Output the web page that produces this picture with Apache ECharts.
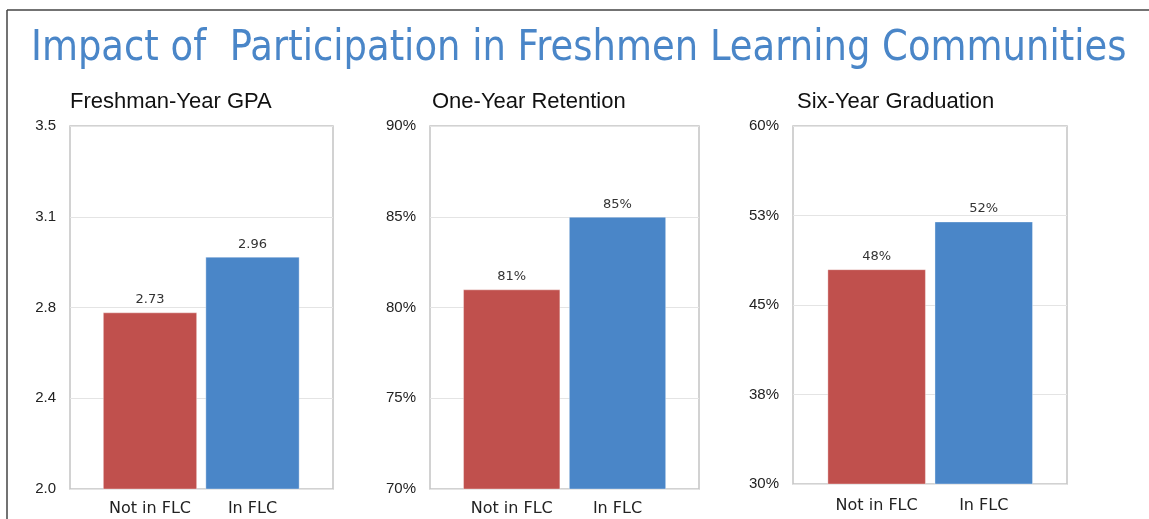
<!DOCTYPE html>
<html lang="en">
<head>
    <meta charset="UTF-8">
    <title>Impact of Participation in Freshmen Learning Communities</title>
    <script src="https://cdn.jsdelivr.net/npm/echarts@6/dist/echarts.min.js"></script>
</head>
<body style="margin:0;background:#fff;">
<div id="main" style="width:1149px;height:519px;"></div>
<script type="text/javascript">
    // data
    var mainTitle = 'Impact of  Participation in Freshmen Learning Communities';
    var categories = ['Not in FLC', 'In FLC'];
    var barColors = ['#C0504D', '#4A86C8'];

    var panelTitles = ['Freshman-Year GPA', 'One-Year Retention', 'Six-Year Graduation'];
    var gpaValues = [2.73, 2.96];
    var retentionValues = [81, 85];
    var graduationValues = [48, 52];

    // axis ranges: [min, max, interval]
    var gpaAxis = [2.0, 3.5, 0.375];
    var retentionAxis = [70, 90, 5];
    var graduationAxis = [30, 60, 7.5];

    // panel boxes (outer = plot frame, inner = where the two bars sit)
    var panels = [
        {outer: [70, 126, 263, 363], inner: [98.75, 205], title: [70, 86], catMargin: 12},
        {outer: [430, 126, 269, 363], inner: [458.8, 211.6], title: [432, 86], catMargin: 12},
        {outer: [793, 126, 274, 358], inner: [823.1, 214.2], title: [797, 86], catMargin: 14}
    ];

    var gpaFmt = function (v) { return v.toFixed(1); };
    var pctFmt = function (v) { return Math.round(v) + '%'; };
    var valueSets = [
        {values: gpaValues, axis: gpaAxis, tick: gpaFmt, label: function (v) { return v.toFixed(2); }},
        {values: retentionValues, axis: retentionAxis, tick: pctFmt, label: pctFmt},
        {values: graduationValues, axis: graduationAxis, tick: pctFmt, label: pctFmt}
    ];

    var myChart = echarts.init(document.getElementById('main'));

    var option = {
        backgroundColor: '#fff',
        animation: false,
        title: [],
        graphic: [
            {type: 'line', shape: {x1: 7, y1: 10, x2: 1149, y2: 10}, style: {stroke: '#444', lineWidth: 1.5}},
            {type: 'line', shape: {x1: 7, y1: 10, x2: 7, y2: 519}, style: {stroke: '#444', lineWidth: 1.5}},
            // slide heading: the original face is a bit narrower, so squeeze it sideways
            {
                type: 'text',
                x: 31,
                y: 49,
                scaleX: 0.88,
                scaleY: 1,
                style: {
                    text: mainTitle,
                    fontFamily: 'DejaVu Sans',
                    fontSize: 42,
                    fill: '#4A86C8',
                    verticalAlign: 'middle'
                }
            }
        ],
        grid: [],
        xAxis: [],
        yAxis: [],
        series: []
    };

    for (var i = 0; i < panels.length; i++) {
        var p = panels[i];
        var vs = valueSets[i];

        option.title.push({
            text: panelTitles[i],
            left: p.title[0] - 5,
            top: p.title[1],
            textStyle: {fontFamily: 'Liberation Sans', fontSize: 22, fontWeight: 'normal', color: '#111'}
        });

        // outer grid: frame, split lines, y labels
        option.grid.push({
            left: p.outer[0], top: p.outer[1], width: p.outer[2], height: p.outer[3],
            show: true, backgroundColor: '#fff', borderColor: '#c4c4c4', borderWidth: 1.5
        });
        // inner grid: bars and category labels
        option.grid.push({
            left: p.inner[0], top: p.outer[1], width: p.inner[1], height: p.outer[3]
        });

        option.xAxis.push({gridIndex: 2 * i, type: 'value', show: false});
        option.xAxis.push({
            gridIndex: 2 * i + 1,
            type: 'category',
            data: categories,
            axisLine: {show: false},
            axisTick: {show: false},
            axisLabel: {interval: 0, fontFamily: 'DejaVu Sans', fontSize: 16, color: '#222', margin: p.catMargin}
        });

        option.yAxis.push({
            gridIndex: 2 * i,
            type: 'value',
            min: vs.axis[0], max: vs.axis[1], interval: vs.axis[2],
            axisLine: {show: false},
            axisTick: {show: false},
            splitLine: {lineStyle: {color: '#e4e4e4', width: 1}},
            axisLabel: {
                fontFamily: 'Liberation Sans', fontSize: 15, color: '#222', margin: 14,
                formatter: vs.tick
            }
        });
        option.yAxis.push({
            gridIndex: 2 * i + 1,
            type: 'value',
            min: vs.axis[0], max: vs.axis[1],
            show: false
        });

        option.series.push({
            type: 'bar',
            xAxisIndex: 2 * i + 1,
            yAxisIndex: 2 * i + 1,
            barCategoryGap: '8%',
            data: vs.values.map(function (v, k) {
                return {value: v, itemStyle: {color: barColors[k]}};
            }),
            itemStyle: {borderColor: 'rgba(255,255,255,0.35)', borderWidth: 1},
            label: {
                show: true,
                position: 'top',
                distance: 6,
                fontFamily: 'DejaVu Sans',
                fontSize: 13,
                color: '#333',
                formatter: (function (fmt) {
                    return function (prm) { return fmt(prm.value); };
                })(vs.label)
            }
        });
    }

    myChart.setOption(option);
</script>
</body>
</html>
